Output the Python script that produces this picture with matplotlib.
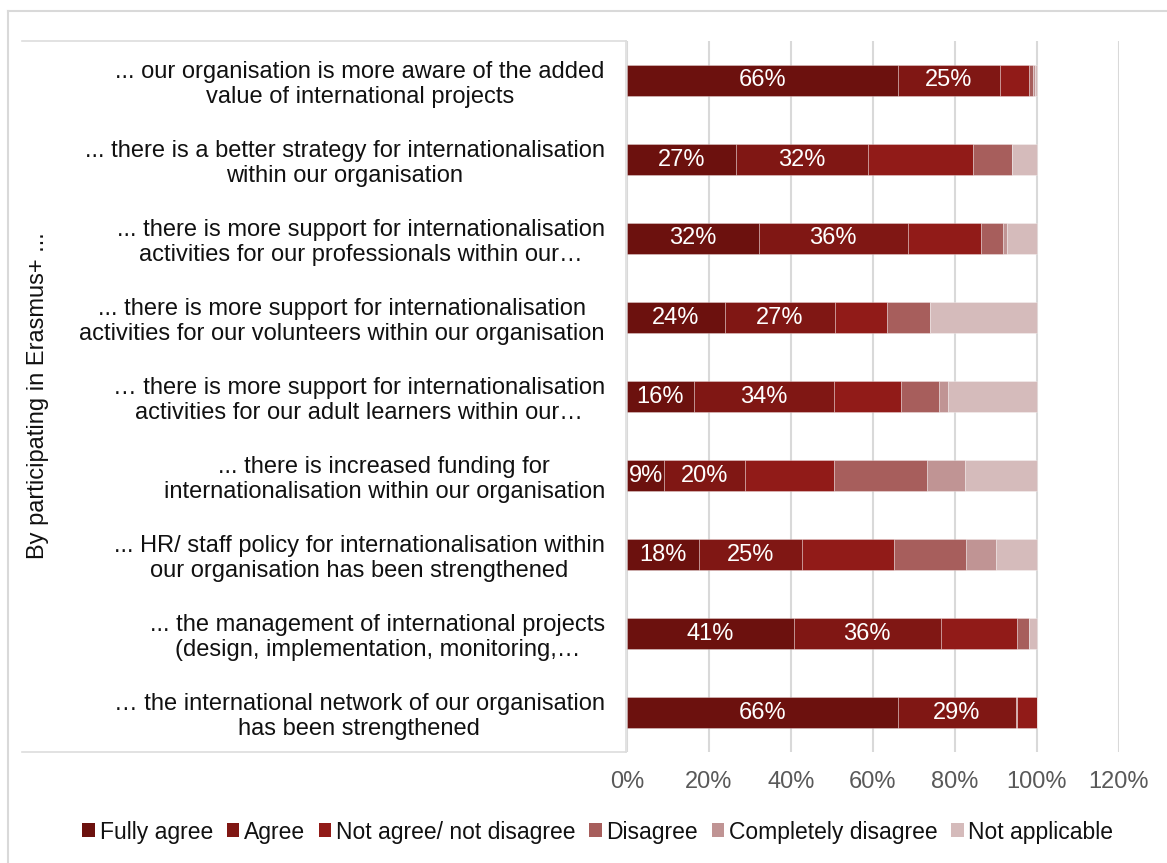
import matplotlib
matplotlib.use("Agg")
import matplotlib.pyplot as plt
from matplotlib.lines import Line2D
from matplotlib.patches import Patch
import numpy as np

plt.rcParams['font.family'] = ['Liberation Sans', 'DejaVu Sans']

categories = [
    "... our organisation is more aware of the added\nvalue of international projects",
    "... there is a better strategy for internationalisation\nwithin our organisation",
    "... there is more support for internationalisation\nactivities for our professionals within our…",
    "... there is more support for internationalisation\nactivities for our volunteers within our organisation",
    "… there is more support for internationalisation\nactivities for our adult learners within our…",
    "... there is increased funding for\ninternationalisation within our organisation",
    "... HR/ staff policy for internationalisation within\nour organisation has been strengthened",
    "... the management of international projects\n(design, implementation, monitoring,…",
    "… the international network of our organisation\nhas been strengthened",
]

series_names = ["Fully agree", "Agree", "Not agree/ not disagree", "Disagree",
                "Completely disagree", "Not applicable"]

fully_agree = [66.0, 26.7, 32.1, 23.8, 16.3, 9.1, 17.6, 40.7, 66.0]
agree = [25.0, 32.0, 36.4, 27.0, 34.2, 19.6, 25.0, 35.8, 29.0]
neutral = [7.0, 25.8, 17.9, 12.7, 16.4, 21.8, 22.4, 18.5, 5.0]
disagree = [1.0, 9.5, 5.3, 10.5, 9.3, 22.6, 17.6, 3.0, 0.0]
completely_disagree = [0.5, 0.0, 1.1, 0.0, 2.2, 9.4, 7.3, 0.0, 0.0]
not_applicable = [0.5, 6.0, 7.2, 26.0, 21.6, 17.5, 10.1, 2.0, 0.0]

colors = ["#6C110E", "#801714", "#911B18", "#A75E5C", "#C09494", "#D5BBBB"]
labelled = [True, True, False, False, False, False]

x_ticks = [0, 20, 40, 60, 80, 100, 120]
x_tick_labels = ["0%", "20%", "40%", "60%", "80%", "100%", "120%"]

W, H = 1167, 863
fig = plt.figure(figsize=(W / 100, H / 100), dpi=100)
ax = fig.add_axes([627 / W, 1 - 752 / H, (1119 - 627) / W, (752 - 41) / H])

data = [fully_agree, agree, neutral, disagree, completely_disagree, not_applicable]
y = np.arange(len(categories))
left = np.zeros(len(categories))
for vals, col, name, lab in zip(data, colors, series_names, labelled):
    vals = np.array(vals)
    ax.barh(y, vals, left=left, height=0.4, color=col,
            edgecolor=(1, 1, 1, 0.35), linewidth=0.6, label=name, zorder=3)
    if lab:
        for yi, l, v in zip(y, left, vals):
            if v > 0:
                ax.text(l + v / 2, yi, f"{v:.0f}%", ha="center", va="center",
                        color="white", fontsize=17, zorder=4)
    left = left + vals

ax.set_xlim(0, 120)
ax.set_ylim(len(categories) - 0.5, -0.5)
ax.set_xticks(x_ticks)
ax.set_xticklabels(x_tick_labels, fontsize=17, color="#595959")
ax.set_yticks(y)
ax.set_yticklabels(categories, fontsize=17, color="#111111",
                   ha="right", multialignment="center")
ax.tick_params(axis="y", length=0, pad=16)
ax.tick_params(axis="x", length=0, pad=14)
ax.grid(axis="x", color="#D9D9D9", linewidth=1.5, zorder=0)
for s in ax.spines.values():
    s.set_visible(False)

fig.text(38 / W, 1 - 396 / H, "By participating in Erasmus+ ...", rotation=90,
         ha="center", va="center", fontsize=17, color="#111111")

# outer frame (left and top edges)
frame = dict(color="#D9D9D9", linewidth=1.5, transform=fig.transFigure)
fig.add_artist(Line2D([8 / W, 8 / W], [0, 1 - 11 / H], **frame))
fig.add_artist(Line2D([8 / W, 1], [1 - 11 / H, 1 - 11 / H], **frame))

# box around the category labels
box = dict(color="#DDDDDD", linewidth=1.2, transform=fig.transFigure)
fig.add_artist(Line2D([22 / W, 626 / W], [1 - 41 / H, 1 - 41 / H], **box))
fig.add_artist(Line2D([22 / W, 626 / W], [1 - 752 / H, 1 - 752 / H], **box))
fig.add_artist(Line2D([626 / W, 626 / W], [1 - 41 / H, 1 - 752 / H], **box))

handles = [Patch(facecolor=c, edgecolor="none") for c in colors]
fig.legend(handles, series_names, loc="center", bbox_to_anchor=(598 / W, 1 - 832 / H),
           ncol=6, frameon=False, fontsize=16.5, handlelength=0.55, handleheight=0.55,
           handletextpad=0.2, columnspacing=0.6, labelcolor="#111111")

fig.savefig("out.png", dpi=100)
